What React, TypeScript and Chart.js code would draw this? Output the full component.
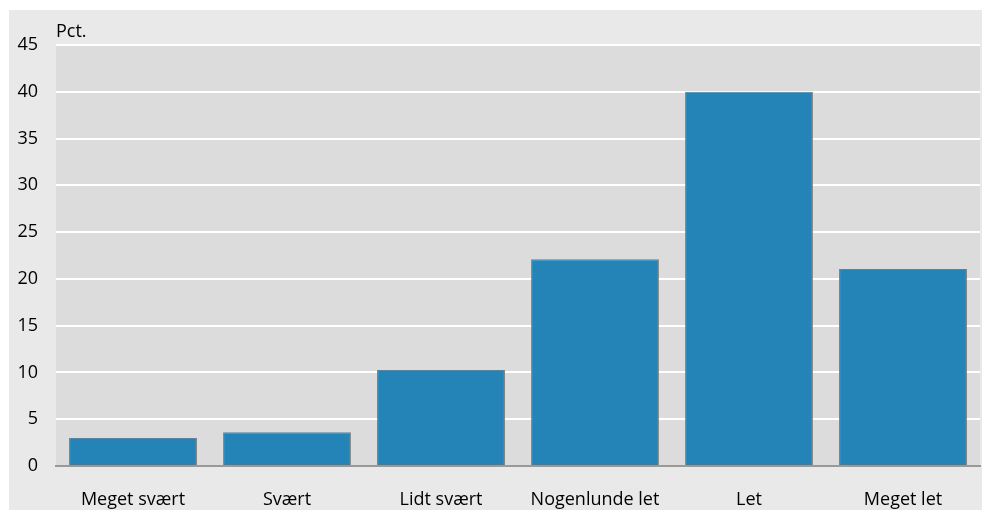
import React, { useEffect, useRef } from "react";
import { Chart, registerables } from "chart.js";

Chart.register(...registerables);

const categories = ["Meget svært", "Svært", "Lidt svært", "Nogenlunde let", "Let", "Meget let"];
const values = [3.0, 3.6, 10.25, 22.1, 40.0, 21.05];
const yTicks = [0, 5, 10, 15, 20, 25, 30, 35, 40, 45];
const unitLabel = "Pct.";

const FONT = "'Open Sans', sans-serif";

export default function App() {
  const ref = useRef<HTMLCanvasElement | null>(null);
  useEffect(() => {
    if (!ref.current) return;
    const bgPlugin = {
      id: "plotBg",
      beforeDraw(chart: any) {
        const { ctx, chartArea } = chart;
        ctx.save();
        ctx.fillStyle = "#dcdcdc";
        ctx.fillRect(chartArea.left, chartArea.top, chartArea.right - chartArea.left, chartArea.bottom - chartArea.top);
        ctx.restore();
      },
      afterDraw(chart: any) {
        const { ctx, chartArea } = chart;
        ctx.save();
        ctx.fillStyle = "#000";
        ctx.font = `18px ${FONT}`;
        ctx.textAlign = "left";
        ctx.textBaseline = "alphabetic";
        ctx.fillText(unitLabel, chartArea.left, chartArea.top - 8);
        ctx.restore();
      },
    };
    const chart = new Chart(ref.current, {
      type: "bar",
      data: {
        labels: categories,
        datasets: [
          {
            data: values,
            backgroundColor: "#2484b8",
            borderColor: "#7a7a7a",
            borderWidth: 1,
            barPercentage: 0.83,
            categoryPercentage: 1,
          },
        ],
      },
      options: {
        animation: false,
        responsive: false,
        maintainAspectRatio: false,
        layout: { padding: { top: 35, right: 2, left: 0, bottom: 0 } },
        plugins: { legend: { display: false }, tooltip: { enabled: false } },
        scales: {
          x: {
            grid: { display: false, drawTicks: false },
            border: { display: true, color: "#999999", width: 2 },
            ticks: { color: "#000", font: { family: FONT, size: 18 }, padding: 23, maxRotation: 0 },
            afterFit(s: any) {
              s.height = 44;
            },
          },
          y: {
            min: 0,
            max: 45,
            afterBuildTicks(s: any) {
              s.ticks = yTicks.map((v) => ({ value: v }));
            },
            grid: {
              drawTicks: false,
              color: (c: any) => (c.tick && c.tick.value === 0 ? "rgba(0,0,0,0)" : "#ffffff"),
              lineWidth: 2,
            },
            border: { display: false },
            ticks: { color: "#000", font: { family: FONT, size: 18 }, padding: 18 },
            afterFit(s: any) {
              s.width = 47;
            },
          },
        },
      },
      plugins: [bgPlugin],
    });
    return () => chart.destroy();
  }, []);
  return (
    <div style={{ position: "absolute", left: 9, top: 10, width: 973, height: 500, background: "#e9e9e9" }}>
      <canvas ref={ref} width={973} height={500} style={{ width: 973, height: 500, display: "block" }} />
    </div>
  );
}
